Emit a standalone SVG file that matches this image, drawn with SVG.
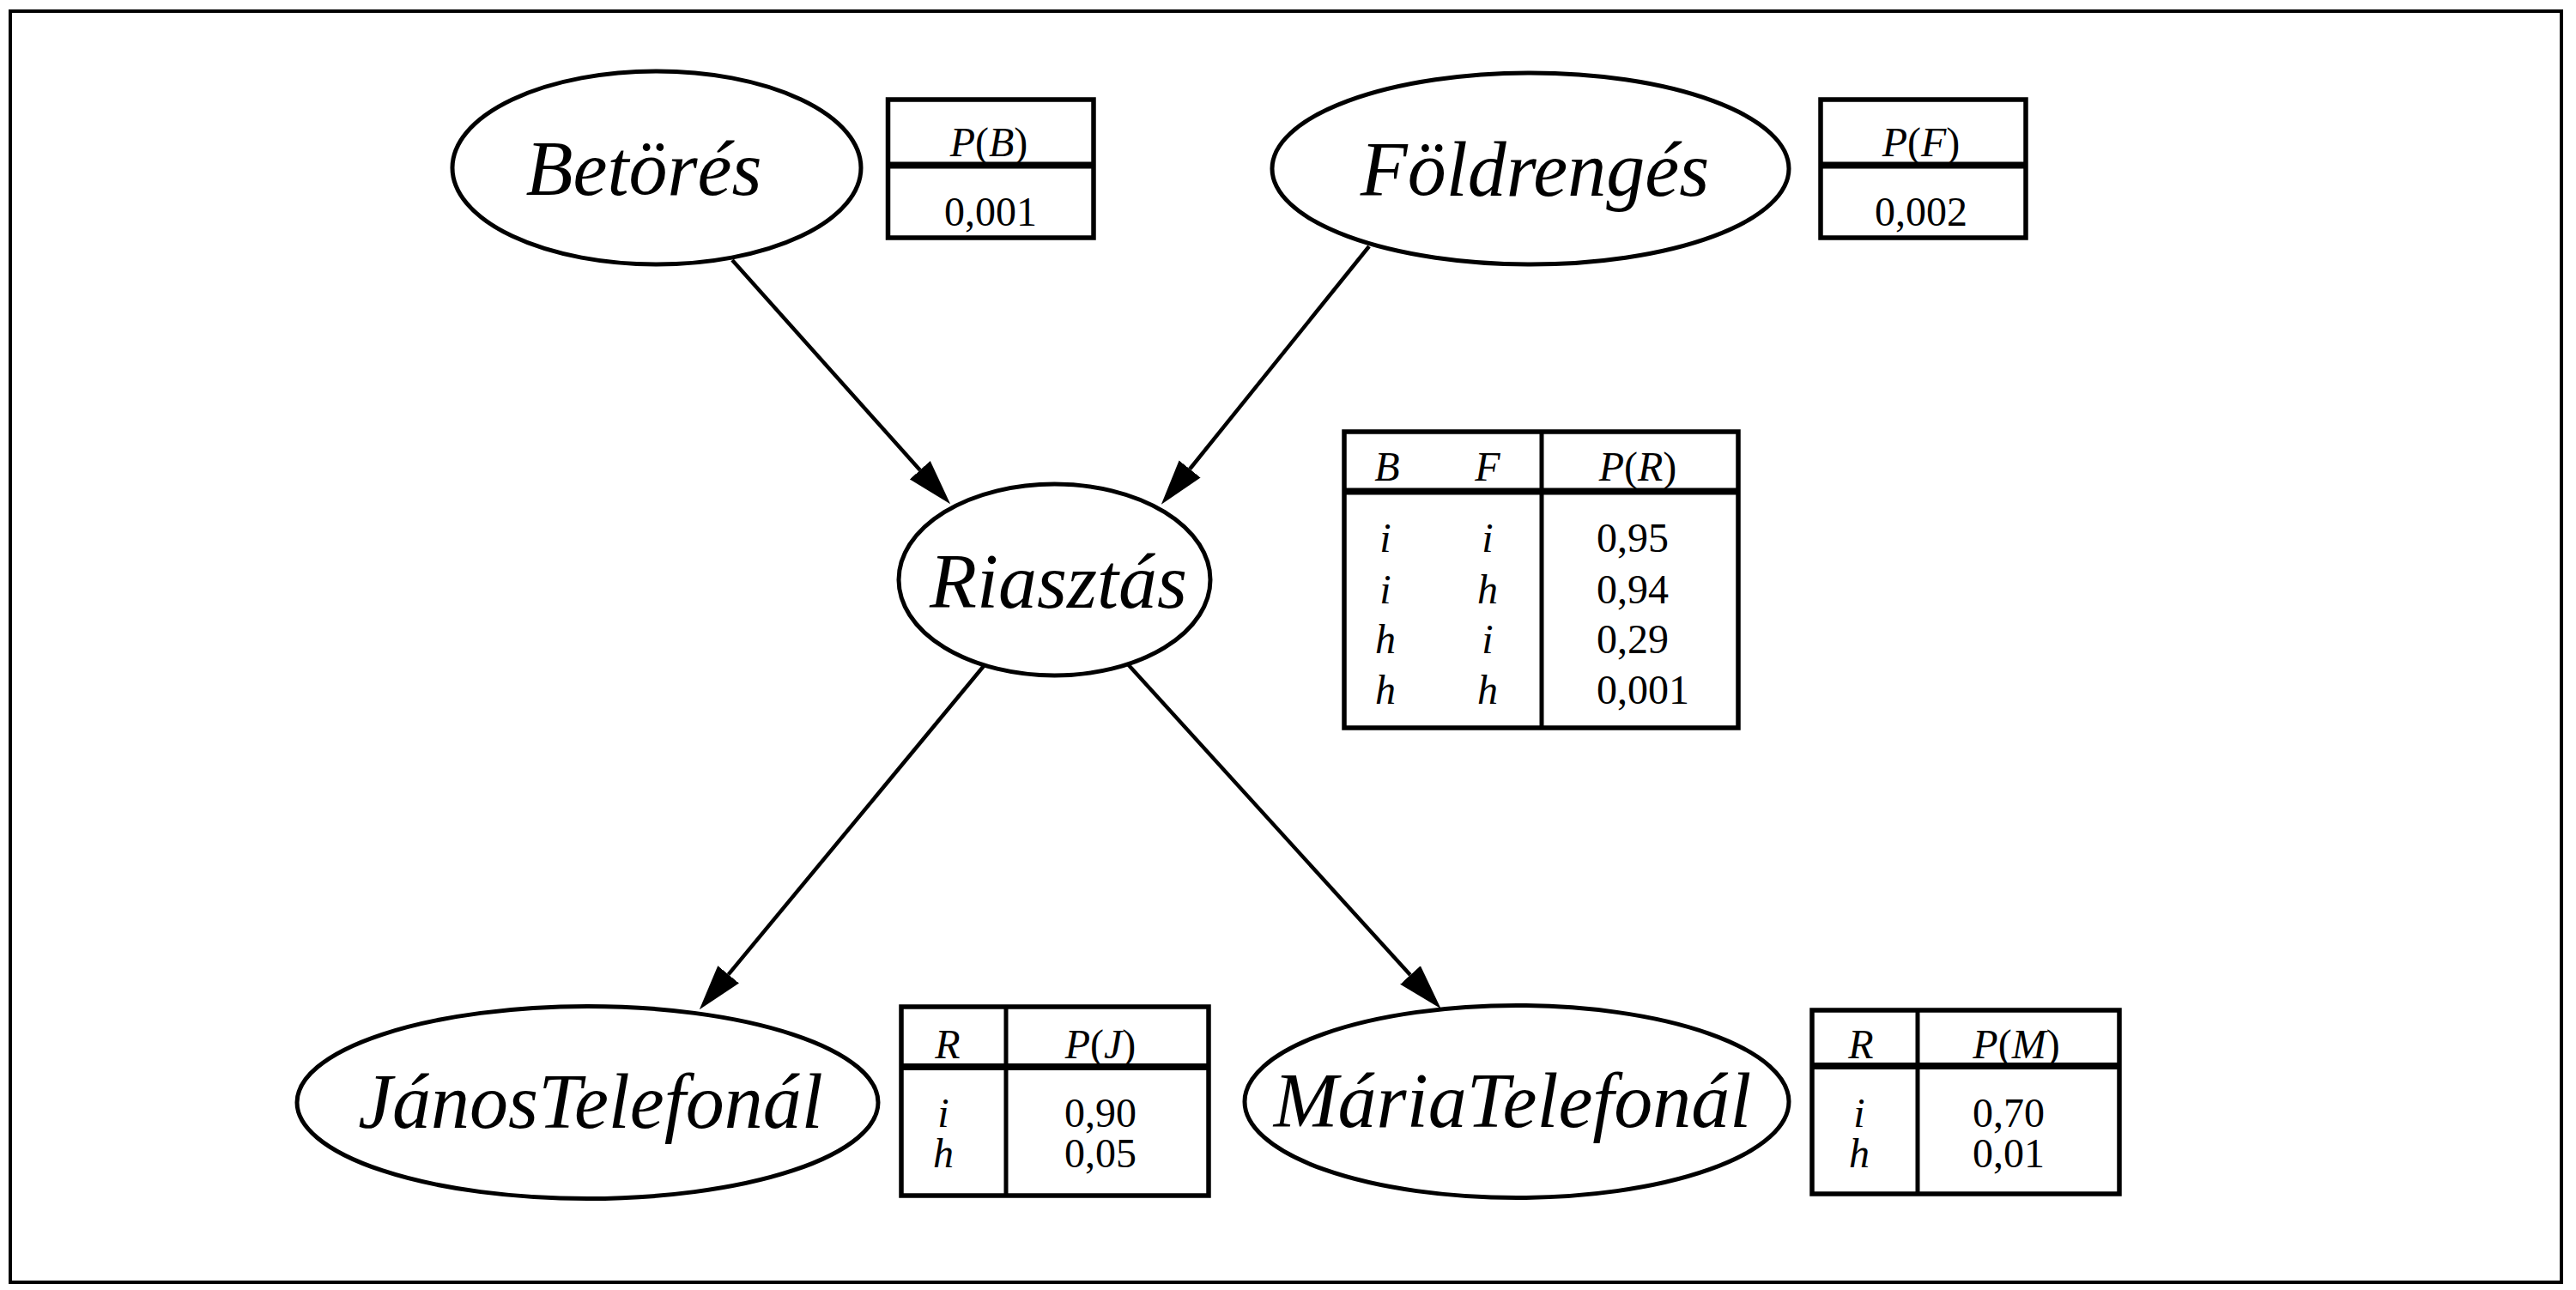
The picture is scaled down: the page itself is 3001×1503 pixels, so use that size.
<svg xmlns="http://www.w3.org/2000/svg" width="3001" height="1503" viewBox="0 0 3001 1503">
<defs>
<style>
.frame{fill:none;stroke:#000;stroke-width:4}
.node ellipse{fill:#fff;stroke:#000;stroke-width:5}
.lbl{font-family:"Liberation Serif","Times New Roman",serif;font-style:italic;font-size:90px;fill:#000}
.tb{fill:#fff;stroke:#000;stroke-width:5.5}
.sep{stroke:#000;stroke-width:8}
.div{stroke:#000;stroke-width:5}
.t{font-family:"Liberation Serif","Times New Roman",serif;font-size:48px;fill:#000}
.it{font-style:italic}
.edge{stroke:#000;stroke-width:4.5;fill:none}
</style>
<marker id="arr" markerUnits="userSpaceOnUse" viewBox="0 -17 54 34" markerWidth="54" markerHeight="34" refX="0" refY="0" orient="auto">
<path d="M0,-16 L53,0 L0,16 z" fill="#000"/>
</marker>
</defs>
<rect width="3001" height="1503" fill="#fff"/>
<rect class="frame" x="12" y="13" width="2972" height="1481"/>

<g id="connectors">
<line class="edge" x1="853" y1="303" x2="1071.8" y2="547.7" marker-end="url(#arr)"/>
<line class="edge" x1="1595" y1="287" x2="1386.1" y2="546.5" marker-end="url(#arr)"/>
<line class="edge" x1="1146" y1="776" x2="848.6" y2="1135.4" marker-end="url(#arr)"/>
<line class="edge" x1="1314" y1="774" x2="1643" y2="1136" marker-end="url(#arr)"/>
</g>

<g id="node-betores" class="node">
<ellipse cx="765" cy="195.5" rx="238" ry="112.5"/>
<text class="lbl" x="750" y="227" text-anchor="middle">Betörés</text>
</g>
<g id="node-foldrenges" class="node">
<ellipse cx="1783" cy="196.5" rx="301" ry="111.5"/>
<text class="lbl" x="1788" y="228" text-anchor="middle">Földrengés</text>
</g>
<g id="node-riasztas" class="node">
<ellipse cx="1228.5" cy="675.5" rx="181.5" ry="111.5"/>
<text class="lbl" x="1233" y="708" text-anchor="middle">Riasztás</text>
</g>
<g id="node-janos" class="node">
<ellipse cx="684.5" cy="1284.5" rx="338.5" ry="112"/>
<text class="lbl" x="688" y="1314" text-anchor="middle">JánosTelefonál</text>
</g>
<g id="node-maria" class="node">
<ellipse cx="1767" cy="1283.5" rx="317" ry="112"/>
<text class="lbl" x="1762" y="1313" text-anchor="middle">MáriaTelefonál</text>
</g>

<g id="cpt-b">
<rect class="tb" x="1034.5" y="116" width="239.5" height="161"/>
<line class="sep" x1="1034.5" y1="192.5" x2="1274" y2="192.5"/>
<text class="t" x="1152" y="182" text-anchor="middle"><tspan class="it">P</tspan>(<tspan class="it">B</tspan>)</text>
<text class="t" x="1154" y="263" text-anchor="middle">0,001</text>
</g>

<g id="cpt-f">
<rect class="tb" x="2121" y="116" width="239" height="161"/>
<line class="sep" x1="2121" y1="192.5" x2="2360" y2="192.5"/>
<text class="t" x="2238" y="182" text-anchor="middle"><tspan class="it">P</tspan>(<tspan class="it">F</tspan>)</text>
<text class="t" x="2238" y="263" text-anchor="middle">0,002</text>
</g>

<g id="cpt-r">
<rect class="tb" x="1566" y="503" width="459" height="345"/>
<line class="div" x1="1796" y1="503" x2="1796" y2="848"/>
<line class="sep" x1="1566" y1="572.5" x2="2025" y2="572.5"/>
<text class="t it" x="1616" y="560" text-anchor="middle">B</text>
<text class="t it" x="1733" y="560" text-anchor="middle">F</text>
<text class="t" x="1908" y="560" text-anchor="middle"><tspan class="it">P</tspan>(<tspan class="it">R</tspan>)</text>
<text class="t it" x="1614" y="643" text-anchor="middle">i</text>
<text class="t it" x="1733" y="643" text-anchor="middle">i</text>
<text class="t" x="1860" y="643">0,95</text>
<text class="t it" x="1614" y="703" text-anchor="middle">i</text>
<text class="t it" x="1733" y="703" text-anchor="middle">h</text>
<text class="t" x="1860" y="703">0,94</text>
<text class="t it" x="1614" y="761" text-anchor="middle">h</text>
<text class="t it" x="1733" y="761" text-anchor="middle">i</text>
<text class="t" x="1860" y="761">0,29</text>
<text class="t it" x="1614" y="820" text-anchor="middle">h</text>
<text class="t it" x="1733" y="820" text-anchor="middle">h</text>
<text class="t" x="1860" y="820">0,001</text>
</g>

<g id="cpt-j">
<rect class="tb" x="1050" y="1173" width="358" height="220"/>
<line class="div" x1="1172" y1="1173" x2="1172" y2="1393"/>
<line class="sep" x1="1050" y1="1243" x2="1408" y2="1243"/>
<text class="t it" x="1104" y="1233" text-anchor="middle">R</text>
<text class="t" x="1282" y="1233" text-anchor="middle"><tspan class="it">P</tspan>(<tspan class="it">J</tspan>)</text>
<text class="t it" x="1099" y="1313" text-anchor="middle">i</text>
<text class="t" x="1282" y="1313" text-anchor="middle">0,90</text>
<text class="t it" x="1099" y="1360" text-anchor="middle">h</text>
<text class="t" x="1282" y="1360" text-anchor="middle">0,05</text>
</g>

<g id="cpt-m">
<rect class="tb" x="2111" y="1177" width="358" height="214"/>
<line class="div" x1="2234" y1="1177" x2="2234" y2="1391"/>
<line class="sep" x1="2111" y1="1242" x2="2469" y2="1242"/>
<text class="t it" x="2168" y="1233" text-anchor="middle">R</text>
<text class="t" x="2349" y="1233" text-anchor="middle"><tspan class="it">P</tspan>(<tspan class="it">M</tspan>)</text>
<text class="t it" x="2166" y="1313" text-anchor="middle">i</text>
<text class="t" x="2340" y="1313" text-anchor="middle">0,70</text>
<text class="t it" x="2166" y="1360" text-anchor="middle">h</text>
<text class="t" x="2340" y="1360" text-anchor="middle">0,01</text>
</g>
</svg>
